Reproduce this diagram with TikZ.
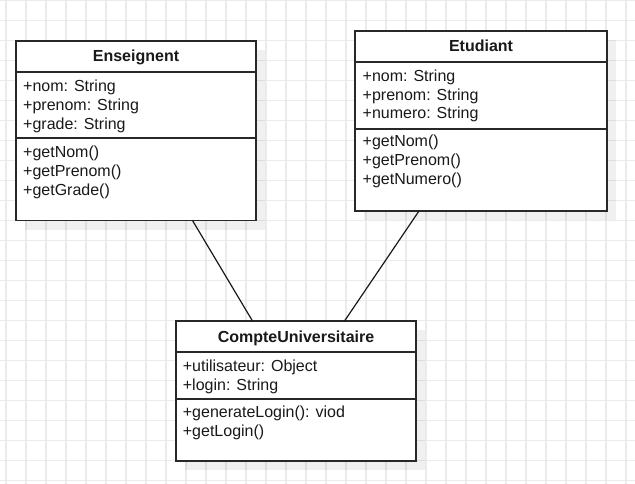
\documentclass[tikz,border=0pt]{standalone}
\usepackage{fontspec}
\setmainfont{Liberation Sans}
\begin{document}
\begin{tikzpicture}[x=1pt,y=-1pt,
  gridline/.style={draw={rgb,255:red,235;green,235;blue,235},line width=1.3pt},
  shadowbox/.style={fill=black,fill opacity=0.06,draw=none},
  classbox/.style={draw={rgb,255:red,40;green,40;blue,40},line width=1.6pt,fill=white,inner sep=0pt,outer sep=0pt,anchor=north west},
  divider/.style={draw={rgb,255:red,40;green,40;blue,40},line width=1.3pt},
  txt/.style={anchor=base west,inner sep=0pt,font=\fontsize{16}{18}\selectfont,text=black!90},
  ttl/.style={anchor=base,inner sep=0pt,font=\fontsize{16}{18}\selectfont\bfseries,text=black!90},
  conn/.style={draw=black!90,line width=1.2pt}]
\useasboundingbox (0,0) rectangle (635,484);
\fill[white] (0,0) rectangle (635,484);
% grid
\foreach \x in {6,26,...,626} \draw[gridline] (\x,0) -- (\x,484);
\foreach \y in {0.7,20.7,...,480.7} \draw[gridline] (0,\y) -- (635,\y);
% shadows
\fill[shadowbox] (25,50) rectangle (265,229.5);
\fill[shadowbox] (364,40) rectangle (616,220);
\fill[shadowbox] (185,330) rectangle (425,470);
% connectors first (under boxes)
% Enseignent
\node[classbox,minimum width=240pt,minimum height=179.5pt] (ens) at (16,41) {};
\draw[divider] (ens.west |- 0,72) -- (ens.east |- 0,72);
\draw[divider] (ens.west |- 0,138) -- (ens.east |- 0,138);
\node[ttl] (ensT) at (136,62) {Enseignent};
\node[txt] (ensA1) at (23,92) {+nom: String};
\node[txt] (ensA2) at (23,110.7) {+prenom: String};
\node[txt] (ensA3) at (23,129.3) {+grade: String};
\node[txt] (ensM1) at (23,157.7) {+getNom()};
\node[txt] (ensM2) at (23,176.5) {+getPrenom()};
\node[txt] (ensM3) at (23,195.3) {+getGrade()};
% Etudiant
\node[classbox,minimum width=252pt,minimum height=180pt] (etu) at (355,31) {};
\draw[divider] (etu.west |- 0,62) -- (etu.east |- 0,62);
\draw[divider] (etu.west |- 0,129) -- (etu.east |- 0,129);
\node[ttl] (etuT) at (481,52) {Etudiant};
\node[txt] (etuA1) at (362.5,81.7) {+nom: String};
\node[txt] (etuA2) at (362.5,100.3) {+prenom: String};
\node[txt] (etuA3) at (362.5,118.7) {+numero: String};
\node[txt] (etuM1) at (362.5,147) {+getNom()};
\node[txt] (etuM2) at (362.5,165.5) {+getPrenom()};
\node[txt] (etuM3) at (362.5,184.2) {+getNumero()};
% CompteUniversitaire
\node[classbox,minimum width=240pt,minimum height=140pt] (cpt) at (176,321) {};
\draw[divider] (cpt.west |- 0,352) -- (cpt.east |- 0,352);
\draw[divider] (cpt.west |- 0,399) -- (cpt.east |- 0,399);
\node[ttl] (cptT) at (296,342) {CompteUniversitaire};
\node[txt] (cptA1) at (182.7,371) {+utilisateur: Object};
\node[txt] (cptA2) at (182.7,390) {+login: String};
\node[txt] (cptM1) at (182.7,417.5) {+generateLogin(): viod};
\node[txt] (cptM2) at (182.7,436.5) {+getLogin()};
% connectors
\draw[conn] ([xshift=176.5pt]ens.south west) -- ([xshift=76.5pt]cpt.north west);
\draw[conn] ([xshift=64pt]etu.south west) -- ([xshift=168.5pt]cpt.north west);
\end{tikzpicture}
\end{document}
